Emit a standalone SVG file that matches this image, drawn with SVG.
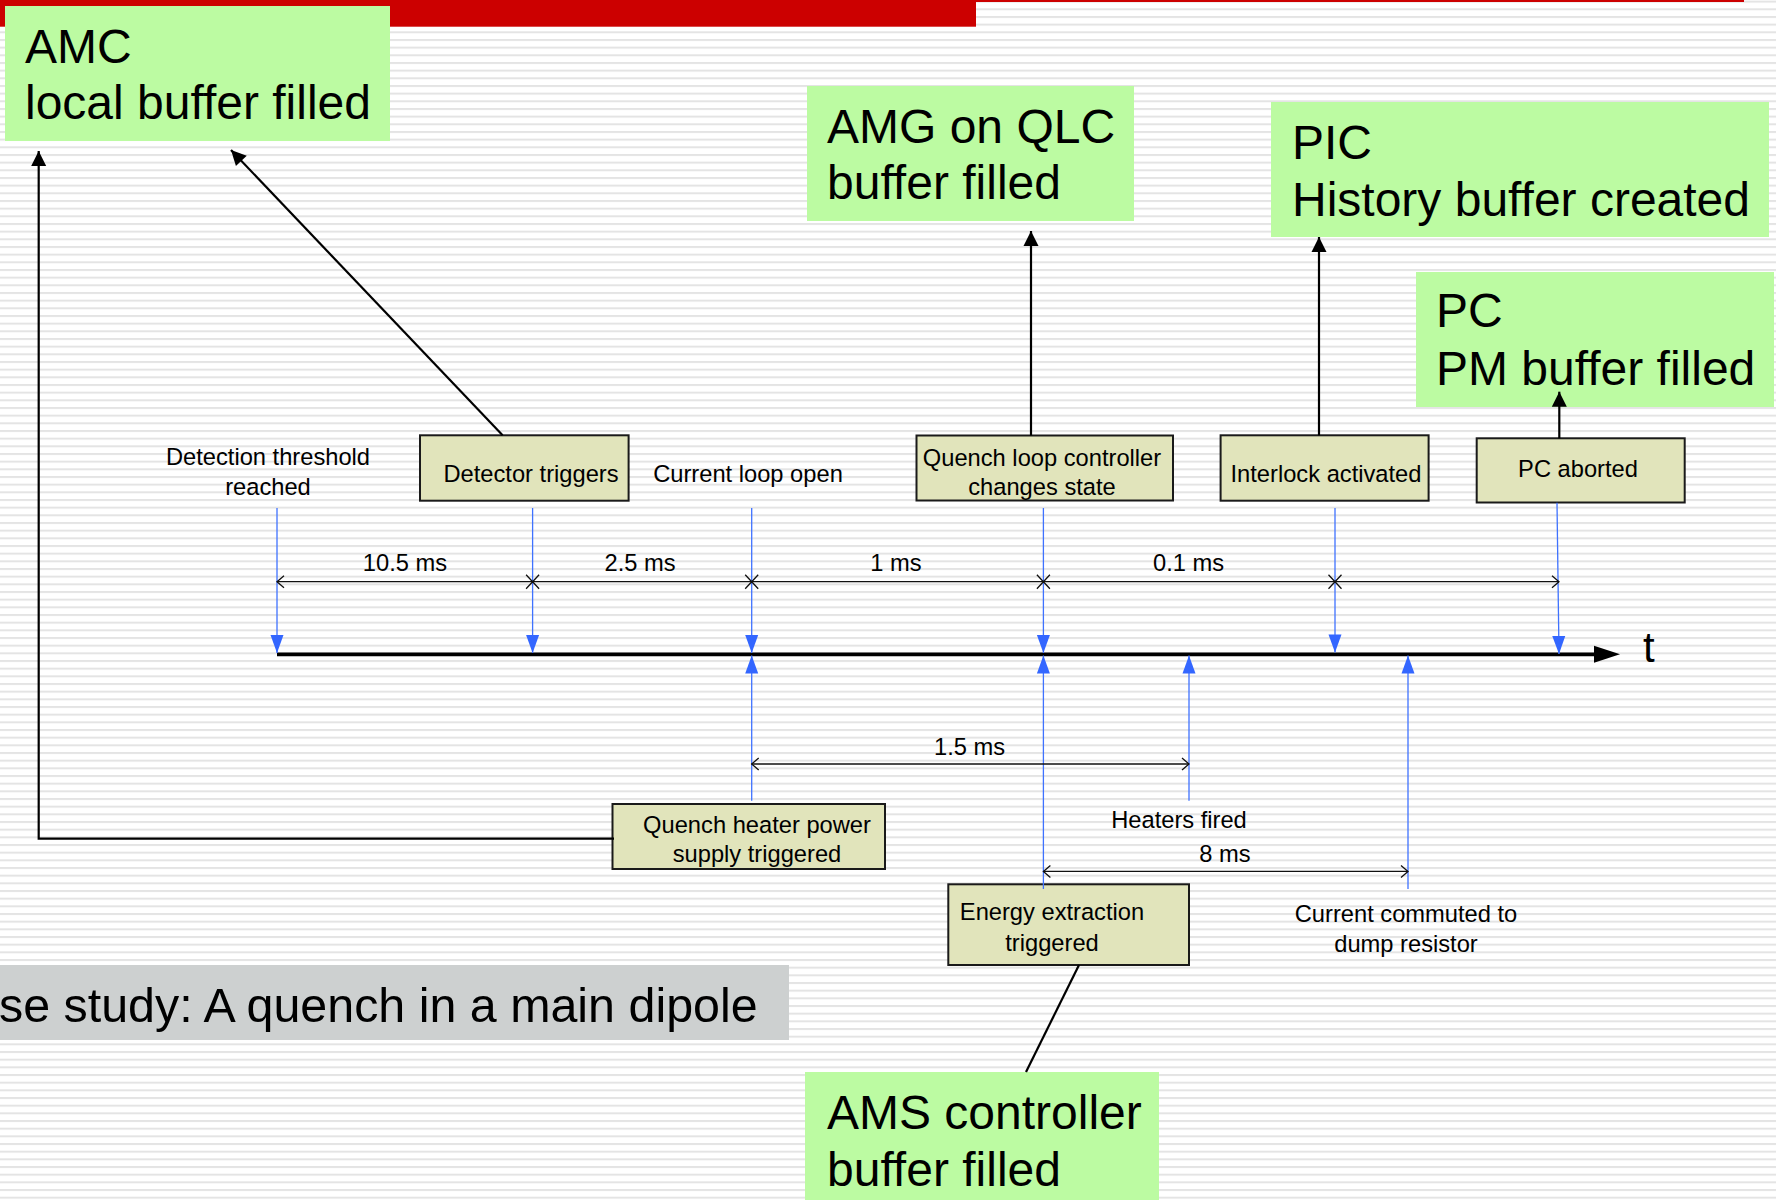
<svg xmlns="http://www.w3.org/2000/svg" width="1776" height="1200" viewBox="0 0 1776 1200">
  <defs>
    <pattern id="stripes" patternUnits="userSpaceOnUse" x="0" y="8.3" width="40" height="7.667">
      <rect x="0" y="0" width="40" height="2" fill="#e4e4e4"/>
    </pattern>
    <marker id="arrBlack" markerUnits="userSpaceOnUse" viewBox="-16 -9 17 18" refX="0" refY="0" markerWidth="17" markerHeight="18" orient="auto">
      <path d="M-15,-7.5 L0,0 L-15,7.5 z" fill="#000"/>
    </marker>
    <marker id="arrBlue" markerUnits="userSpaceOnUse" viewBox="-19 -8 20 16" refX="0" refY="0" markerWidth="20" markerHeight="16" orient="auto">
      <path d="M-18,-6.5 L0,0 L-18,6.5 z" fill="#3366ff"/>
    </marker>
    <marker id="arrOpen" markerUnits="userSpaceOnUse" viewBox="-10 -8 12 16" refX="0" refY="0" markerWidth="12" markerHeight="16" orient="auto-start-reverse">
      <path d="M-7,-6 L0,0 L-7,6" fill="none" stroke="#111" stroke-width="1.3"/>
    </marker>
    <marker id="arrTime" markerUnits="userSpaceOnUse" viewBox="-7 -10 28 20" refX="0" refY="0" markerWidth="28" markerHeight="20" orient="auto">
      <path d="M-6,-8.5 L20,0 L-6,8.5 z" fill="#000"/>
    </marker>
  </defs>
  <style>
    text { font-family: "Liberation Sans", Arial, sans-serif; fill: #000; }
    .big { font-size: 48px; }
    .sm { font-size: 23.7px; }
    .mid { text-anchor: middle; }
    .green { fill: #bcfba2; }
    .olive { fill: #e1e4bb; stroke: #1a1a1a; stroke-width: 2; }
    .blk { fill: none; stroke: #000; stroke-width: 2.2; }
    .blue { fill: none; stroke: #3f72ff; stroke-width: 1.3; }
    .dim { fill: none; stroke: #111; stroke-width: 1.3; }
  </style>

  <!-- background -->
  <rect x="0" y="0" width="1776" height="1200" fill="#ffffff"/>
  <rect x="0" y="0" width="1776" height="1200" fill="url(#stripes)"/>
  <rect x="0" y="0" width="976" height="26.7" fill="#cc0000"/>
  <rect x="976" y="0" width="768" height="2" fill="#cc0000"/>

  <!-- banner -->
  <g id="banner">
    <rect x="0" y="965" width="789" height="75" fill="#cdd0d0"/>
    <text x="-1" y="1021.7" style="font-size:48.4px">se study: A quench in a main dipole</text>
  </g>

  <!-- green result nodes -->
  <g id="amc">
    <rect class="green" x="5" y="6" width="385" height="135"/>
    <text class="big" x="25" y="63">AMC</text>
    <text class="big" x="25" y="119">local buffer filled</text>
  </g>
  <g id="amg">
    <rect class="green" x="807" y="86" width="327" height="135"/>
    <text class="big" x="827" y="143">AMG on QLC</text>
    <text class="big" x="827" y="199">buffer filled</text>
  </g>
  <g id="pic">
    <rect class="green" x="1271" y="102" width="498" height="135"/>
    <text class="big" x="1292" y="159">PIC</text>
    <text class="big" x="1292" y="216">History buffer created</text>
  </g>
  <g id="pc">
    <rect class="green" x="1416" y="272" width="358" height="135"/>
    <text class="big" x="1436" y="327">PC</text>
    <text class="big" x="1436" y="385">PM buffer filled</text>
  </g>
  <g id="ams">
    <rect class="green" x="805" y="1072" width="354" height="140"/>
    <text class="big" x="827" y="1129">AMS controller</text>
    <text class="big" x="827" y="1186">buffer filled</text>
  </g>

  <!-- event boxes -->
  <g id="detector-triggers">
    <rect class="olive" x="420" y="435.3" width="208.6" height="65.4"/>
    <text class="sm mid" x="531" y="482">Detector triggers</text>
  </g>
  <g id="qlc-changes">
    <rect class="olive" x="916.5" y="435.5" width="256.5" height="65"/>
    <text class="sm mid" x="1042" y="466">Quench loop controller</text>
    <text class="sm mid" x="1042" y="495">changes state</text>
  </g>
  <g id="interlock">
    <rect class="olive" x="1220.6" y="435.3" width="208" height="65.4"/>
    <text class="sm mid" x="1326" y="482">Interlock activated</text>
  </g>
  <g id="pc-aborted">
    <rect class="olive" x="1476.7" y="438.3" width="208" height="64.2"/>
    <text class="sm mid" x="1578" y="477">PC aborted</text>
  </g>
  <g id="qh-triggered">
    <rect class="olive" x="612.5" y="804" width="272.5" height="65"/>
    <text class="sm mid" x="757" y="833">Quench heater power</text>
    <text class="sm mid" x="757" y="862">supply triggered</text>
  </g>
  <g id="ee-triggered">
    <rect class="olive" x="948.3" y="884.3" width="240.7" height="80.7"/>
    <text class="sm mid" x="1052" y="920">Energy extraction</text>
    <text class="sm mid" x="1052" y="951">triggered</text>
  </g>

  <!-- free event labels -->
  <g id="labels">
    <text class="sm mid" x="268" y="465">Detection threshold</text>
    <text class="sm mid" x="268" y="495">reached</text>
    <text class="sm mid" x="748" y="482">Current loop open</text>
    <text class="sm mid" x="1179" y="827.5">Heaters fired</text>
    <text class="sm mid" x="1406" y="922">Current commuted to</text>
    <text class="sm mid" x="1406" y="952">dump resistor</text>
    <text class="sm mid" x="405" y="571">10.5 ms</text>
    <text class="sm mid" x="640" y="571">2.5 ms</text>
    <text class="sm mid" x="896" y="571">1 ms</text>
    <text class="sm mid" x="1188.6" y="571">0.1 ms</text>
    <text class="sm mid" x="969.5" y="755">1.5 ms</text>
    <text class="sm mid" x="1225" y="862">8 ms</text>
    <text x="1643" y="662" style="font-size:42px">t</text>
  </g>

  <!-- connectors -->
  <g id="connectors">
    <!-- black links to result boxes -->
    <polyline class="blk" points="614,838.7 38.7,838.7 38.7,151" marker-end="url(#arrBlack)"/>
    <line class="blk" x1="502.6" y1="435.3" x2="231" y2="150" marker-end="url(#arrBlack)"/>
    <line class="blk" x1="1031" y1="435.5" x2="1031" y2="231" marker-end="url(#arrBlack)"/>
    <line class="blk" x1="1319" y1="435.3" x2="1319" y2="237" marker-end="url(#arrBlack)"/>
    <line class="blk" x1="1559.3" y1="438.3" x2="1559.3" y2="391.7" marker-end="url(#arrBlack)"/>
    <line class="blk" x1="1079" y1="965" x2="1026" y2="1072"/>

    <!-- time axis -->
    <line x1="277" y1="654.3" x2="1600" y2="654.3" stroke="#000" stroke-width="3.8" marker-end="url(#arrTime)"/>

    <!-- blue event arrows, from above -->
    <line class="blue" x1="277" y1="508" x2="277" y2="653" marker-end="url(#arrBlue)"/>
    <line class="blue" x1="532.6" y1="508" x2="532.6" y2="653" marker-end="url(#arrBlue)"/>
    <line class="blue" x1="751.7" y1="508" x2="751.7" y2="653" marker-end="url(#arrBlue)"/>
    <line class="blue" x1="1043.4" y1="508" x2="1043.4" y2="653" marker-end="url(#arrBlue)"/>
    <line class="blue" x1="1335" y1="508" x2="1335" y2="652.5" marker-end="url(#arrBlue)"/>
    <line class="blue" x1="1557" y1="502.7" x2="1559" y2="654" marker-end="url(#arrBlue)"/>

    <!-- blue event arrows, from below -->
    <line class="blue" x1="751.7" y1="800.7" x2="751.7" y2="655.5" marker-end="url(#arrBlue)"/>
    <line class="blue" x1="1043.4" y1="889" x2="1043.4" y2="655.5" marker-end="url(#arrBlue)"/>
    <line class="blue" x1="1189" y1="800.7" x2="1189" y2="655.5" marker-end="url(#arrBlue)"/>
    <line class="blue" x1="1408" y1="889" x2="1408" y2="655.5" marker-end="url(#arrBlue)"/>

    <!-- dimension lines -->
    <line class="dim" x1="277" y1="581.7" x2="1559" y2="581.7" marker-start="url(#arrOpen)" marker-end="url(#arrOpen)"/>
    <path class="dim" d="M526.1,574.7 L539.1,588.7 M526.1,588.7 L539.1,574.7 M745.2,574.7 L758.2,588.7 M745.2,588.7 L758.2,574.7 M1036.9,574.7 L1049.9,588.7 M1036.9,588.7 L1049.9,574.7 M1328.5,574.7 L1341.5,588.7 M1328.5,588.7 L1341.5,574.7"/>
    <line class="dim" x1="751.7" y1="764" x2="1189" y2="764" marker-start="url(#arrOpen)" marker-end="url(#arrOpen)"/>
    <line class="dim" x1="1043.4" y1="871.4" x2="1408" y2="871.4" marker-start="url(#arrOpen)" marker-end="url(#arrOpen)"/>
  </g>
</svg>
